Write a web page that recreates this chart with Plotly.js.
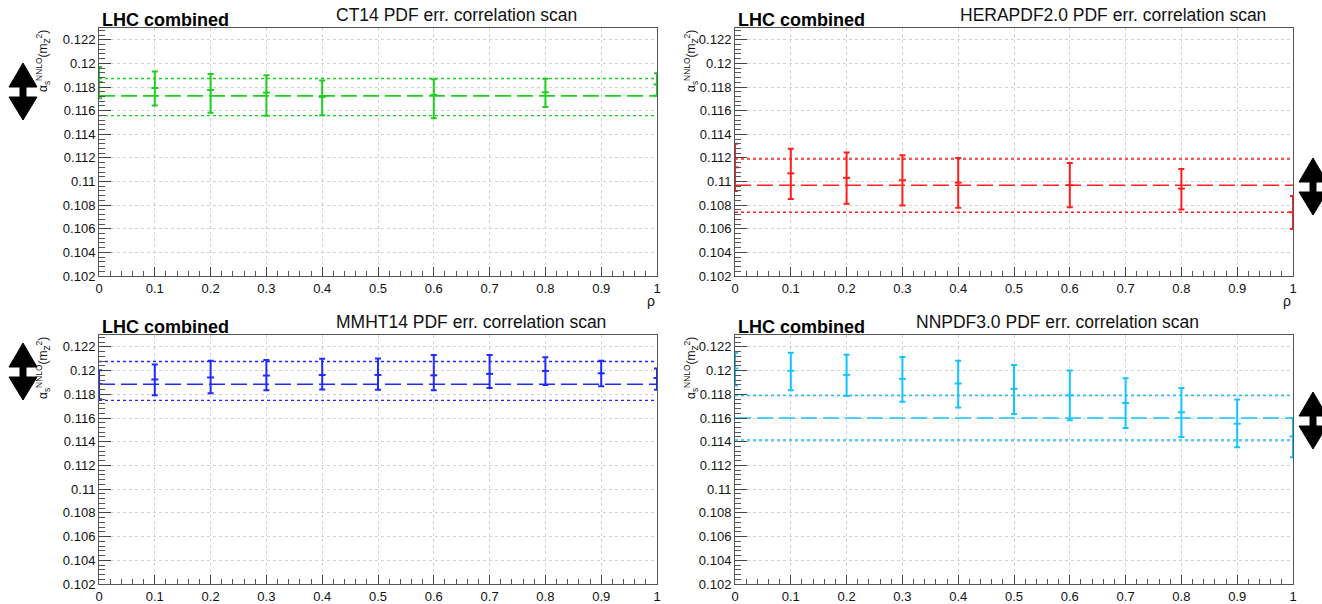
<!DOCTYPE html>
<html>
<head>
<meta charset="utf-8">
<script src="https://cdn.plot.ly/plotly-3.0.1.min.js"></script>
<style>
  html, body { margin: 0; padding: 0; background: #fff; }
  #chart { width: 1322px; height: 604px; }
</style>
</head>
<body>
<div id="chart"></div>
<script>
// ---- correlation scan results: alpha_s(mZ^2) vs PDF-error correlation rho ----
const ct14Rho  = [0, 0.1, 0.2, 0.3, 0.4, 0.6, 0.8, 1.0];
const ct14Val  = [0.11844, 0.11792, 0.11775, 0.11753, 0.11717, 0.11733, 0.11756, 0.11822];
const ct14Up   = [0.00125, 0.00139, 0.00136, 0.00147, 0.00139, 0.00134, 0.00114, 0.00095];
const ct14Dn   = [0.00138, 0.00148, 0.00192, 0.00197, 0.00156, 0.00197, 0.00125, 0.00094];
const ct14Band = [0.11725, 0.11872, 0.11558];   // central, upper, lower

const heraRho  = [0, 0.1, 0.2, 0.3, 0.4, 0.6, 0.8, 1.0];
const heraVal  = [0.1112, 0.11069, 0.11031, 0.11011, 0.10991, 0.10969, 0.1094, 0.1074];
const heraUp   = [0.0020, 0.00208, 0.00215, 0.00212, 0.00209, 0.00188, 0.00166, 0.00137];
const heraDn   = [0.0020, 0.00218, 0.0022, 0.00214, 0.00214, 0.00186, 0.00177, 0.00143];
const heraBand = [0.10969, 0.11191, 0.1074];

const mmhtRho  = [0, 0.1, 0.2, 0.3, 0.4, 0.5, 0.6, 0.7, 0.8, 0.9, 1.0];
const mmhtVal  = [0.11887, 0.11925, 0.11942, 0.11958, 0.11963, 0.11963, 0.1196, 0.11972, 0.11997, 0.11977, 0.11937];
const mmhtUp   = [0.00116, 0.00126, 0.0014, 0.00132, 0.00136, 0.00138, 0.00172, 0.0016, 0.00116, 0.00105, 0.0008];
const mmhtDn   = [0.00129, 0.00133, 0.00133, 0.00124, 0.00123, 0.00124, 0.00126, 0.00118, 0.00118, 0.00109, 0.00098];
const mmhtBand = [0.11885, 0.12076, 0.11749];

const nnpdfRho  = [0, 0.1, 0.2, 0.3, 0.4, 0.5, 0.6, 0.7, 0.8, 0.9, 1.0];
const nnpdfVal  = [0.12018, 0.11998, 0.11964, 0.1193, 0.11891, 0.11846, 0.11792, 0.11727, 0.11648, 0.11552, 0.11445];
const nnpdfUp   = [0.00133, 0.00153, 0.0017, 0.00184, 0.00192, 0.002, 0.00209, 0.00209, 0.00206, 0.00203, 0.00155];
const nnpdfDn   = [0.00144, 0.00164, 0.00178, 0.00192, 0.00203, 0.00212, 0.00212, 0.00212, 0.00209, 0.00198, 0.00175];
const nnpdfBand = [0.116, 0.11789, 0.11414];

const panelTitles = [
  'CT14 PDF err. correlation scan',
  'HERAPDF2.0 PDF err. correlation scan',
  'MMHT14 PDF err. correlation scan',
  'NNPDF3.0 PDF err. correlation scan'
];
const experimentLabel = 'LHC combined';
const yTitle = 'α<sub>s</sub><sup>NNLO</sup>(m<sub>Z</sub><sup>2</sup>)';
const xTitle = 'ρ';

const yTickVals = [0.102, 0.104, 0.106, 0.108, 0.11, 0.112, 0.114, 0.116, 0.118, 0.12, 0.122];
const yTickText = ['0.102', '0.104', '0.106', '0.108', '0.11', '0.112', '0.114', '0.116', '0.118', '0.12', '0.122'];
const xTickVals = [0, 0.1, 0.2, 0.3, 0.4, 0.5, 0.6, 0.7, 0.8, 0.9, 1];
const xTickText = ['0', '0.1', '0.2', '0.3', '0.4', '0.5', '0.6', '0.7', '0.8', '0.9', '1'];

// ---- page geometry (pixels) ----
const W = 1322, H = 604;
const px = x => x / W;
const py = y => 1 - y / H;

const panels = [
  { rho: ct14Rho,  val: ct14Val,  up: ct14Up,  dn: ct14Dn,  band: ct14Band,  color: '#1fcf1f', x0: 99,  x1: 657,  y0: 28,  y1: 276, titleX: 334, yTitleX: 43,  arrowX: 23,   arrowY: 63 },
  { rho: heraRho,  val: heraVal,  up: heraUp,  dn: heraDn,  band: heraBand,  color: '#ff1f1f', x0: 735, x1: 1293, y0: 28,  y1: 276, titleX: 958, yTitleX: 691, arrowX: 1313, arrowY: 158 },
  { rho: mmhtRho,  val: mmhtVal,  up: mmhtUp,  dn: mmhtDn,  band: mmhtBand,  color: '#1f2bff', x0: 99,  x1: 657,  y0: 335, y1: 584, titleX: 334, yTitleX: 43,  arrowX: 23,   arrowY: 343 },
  { rho: nnpdfRho, val: nnpdfVal, up: nnpdfUp, dn: nnpdfDn, band: nnpdfBand, color: '#14c4ff', x0: 735, x1: 1293, y0: 335, y1: 584, titleX: 914, yTitleX: 691, arrowX: 1313, arrowY: 392 }
];

const FONT = '"Liberation Sans", Arial, Helvetica, sans-serif';
const traces = [];
const layout = {
  width: W, height: H,
  margin: { l: 0, r: 0, t: 0, b: 0 },
  paper_bgcolor: '#fff', plot_bgcolor: '#fff',
  showlegend: false,
  font: { family: FONT, color: '#111', size: 13 },
  annotations: [], shapes: []
};

// double-headed arrow marker drawn beside each panel
function arrowPath(cx, top) {
  const hw = 14, sw = 3;
  const b1 = top + 24, b2 = top + 34, bot = top + 57;
  const X = v => px(v), Y = v => py(v);
  return `M${X(cx)},${Y(top)} L${X(cx + hw)},${Y(b1)} L${X(cx + sw)},${Y(b1)} L${X(cx + sw)},${Y(b2)} ` +
         `L${X(cx + hw)},${Y(b2)} L${X(cx)},${Y(bot)} L${X(cx - hw)},${Y(b2)} L${X(cx - sw)},${Y(b2)} ` +
         `L${X(cx - sw)},${Y(b1)} L${X(cx - hw)},${Y(b1)} Z`;
}

panels.forEach((p, i) => {
  const n = i + 1;
  const xa = 'x' + (n === 1 ? '' : n), ya = 'y' + (n === 1 ? '' : n);
  const xKey = 'xaxis' + (n === 1 ? '' : n), yKey = 'yaxis' + (n === 1 ? '' : n);

  layout[xKey] = {
    domain: [px(p.x0), px(p.x1)], anchor: ya, range: [0, 1],
    tickmode: 'array', tickvals: xTickVals, ticktext: xTickText,
    ticks: 'inside', ticklen: 9, tickwidth: 1, tickcolor: '#444',
    minor: { tickmode: 'linear', tick0: 0, dtick: 0.02, ticks: 'inside', ticklen: 5, tickcolor: '#555', showgrid: false },
    showgrid: true, gridcolor: '#d2d2d2', griddash: 'dot', gridwidth: 1,
    showline: true, linecolor: '#555', linewidth: 1, mirror: true,
    zeroline: false, tickfont: { family: FONT, size: 13, color: '#111' }
  };
  layout[yKey] = {
    domain: [py(p.y1), py(p.y0)], anchor: xa, range: [0.102, 0.123],
    tickmode: 'array', tickvals: yTickVals, ticktext: yTickText,
    ticks: 'inside', ticklen: 12, tickwidth: 1, tickcolor: '#444',
    minor: { tickmode: 'linear', tick0: 0.102, dtick: 0.0004, ticks: 'inside', ticklen: 6, tickcolor: '#555', showgrid: false },
    showgrid: true, gridcolor: '#d2d2d2', griddash: 'dot', gridwidth: 1,
    showline: true, linecolor: '#555', linewidth: 1, mirror: true,
    zeroline: false, tickfont: { family: FONT, size: 13, color: '#111' }
  };

  // combined result: central (dashed) and uncertainty edges (dotted)
  p.band.forEach((v, k) => {
    traces.push({
      x: [0, 1], y: [v, v], xaxis: xa, yaxis: ya, mode: 'lines', hoverinfo: 'skip',
      line: { color: p.color, width: k === 0 ? 1.6 : 1.4, dash: k === 0 ? '16px,6px' : 'dot' }
    });
  });

  // scan points with asymmetric errors
  traces.push({
    x: p.rho, y: p.val, xaxis: xa, yaxis: ya, mode: 'markers',
    marker: { symbol: 'line-ew-open', size: 5, color: p.color, line: { color: p.color, width: 2 } },
    error_y: { type: 'data', symmetric: false, array: p.up, arrayminus: p.dn,
               color: p.color, thickness: 2, width: 3 }
  });

  layout.annotations.push(
    { text: '<b>' + experimentLabel + '</b>', xref: 'paper', yref: 'paper',
      x: px(p.x0 + 1), y: py(p.y0 + 4), xanchor: 'left', yanchor: 'bottom', showarrow: false,
      font: { family: FONT, size: 18, color: '#000' } },
    { text: panelTitles[i], xref: 'paper', yref: 'paper',
      x: px(p.titleX), y: py(p.y0 - 1), xanchor: 'left', yanchor: 'bottom', showarrow: false,
      font: { family: FONT, size: 17.5, color: '#111' } },
    { text: yTitle, xref: 'paper', yref: 'paper', textangle: -90,
      x: px(p.yTitleX), y: py(p.y0), xanchor: 'center', yanchor: 'top', showarrow: false,
      font: { family: FONT, size: 12, color: '#111' } },
    { text: xTitle, xref: 'paper', yref: 'paper',
      x: px(p.x1 - 6), y: py(p.y1 + 15), xanchor: 'center', yanchor: 'top', showarrow: false,
      font: { family: FONT, size: 14, color: '#111' } }
  );

  layout.shapes.push({ type: 'path', xref: 'paper', yref: 'paper', path: arrowPath(p.arrowX, p.arrowY),
                       fillcolor: '#000', line: { color: '#000', width: 1 } });
});

Plotly.newPlot('chart', traces, layout, { staticPlot: true, displayModeBar: false });
</script>
</body>
</html>
